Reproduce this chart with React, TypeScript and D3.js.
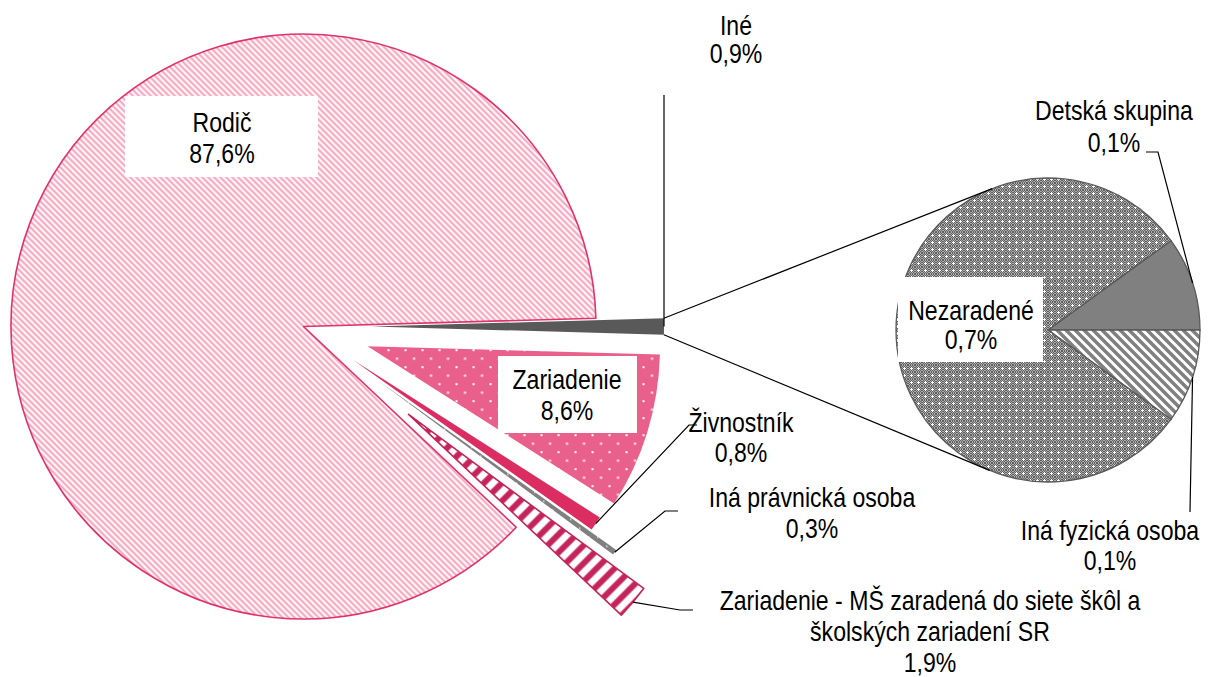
import React, { useEffect } from 'react';
import * as d3 from 'd3';

const mainCategories = [
  'Iné',
  'Zariadenie',
  'Živnostník',
  'Iná právnická osoba',
  'Zariadenie - MŠ zaradená do siete škôl a školských zariadení SR',
  'Rodič',
];
const mainValues = [0.9, 8.6, 0.8, 0.3, 1.9, 87.6];

const subCategories = ['Detská skupina', 'Iná fyzická osoba', 'Nezaradené'];
const subValues = [0.09, 0.09, 0.72];

const W = 1209;
const H = 677;
const main = { cx: 303.5, cy: 326.5, r: 292.5 };
const sub = { cx: 1048, cy: 330, r: 152 };
// pull-out distance of each main slice, same order as mainCategories
const explode = [68, 67, 60, 92, 137, 0];
const mainFill = ['#595959', 'url(#dotsPink)', '#dc2d63', 'url(#dotsGray)', 'url(#stripeRed)', 'url(#hatchPink)'];
const mainStroke = ['none', 'none', 'none', 'none', '#c5245a', '#e0336c'];
const subFill = ['#808080', 'url(#hatchGray)', 'url(#checker)'];

// narrow sans is not installed, so the regular one is squeezed
const FONT = "'Liberation Sans', Arial, sans-serif";
const NARROW = 0.855;
const pct = (v: number) => v.toFixed(1).replace('.', ',') + '%';
const polar = (a: number, d: number): [number, number] => [d * Math.sin(a), -d * Math.cos(a)];

function tangent(px: number, py: number, sign: number): [number, number] {
  const dx = sub.cx - px;
  const dy = sub.cy - py;
  const d = Math.sqrt(dx * dx + dy * dy);
  const phi = Math.atan2(dy, dx) + sign * Math.asin(sub.r / d);
  const len = Math.sqrt(d * d - sub.r * sub.r);
  return [px + len * Math.cos(phi), py + len * Math.sin(phi)];
}

function Label({ x, lines, y0, lh, box }: { x: number; lines: string[]; y0: number; lh: number; box?: number[] }) {
  return (
    <g>
      {box && <rect x={box[0]} y={box[1]} width={box[2] - box[0]} height={box[3] - box[1]} fill="#fff" />}
      <g transform={`translate(${x},0) scale(${NARROW},1)`}>
        <text x={0} y={y0} textAnchor="middle" fontFamily={FONT} fontSize={27} fill="#000">
          {lines.map((l, i) => (
            <tspan key={i} x={0} y={y0 + i * lh}>{l}</tspan>
          ))}
        </text>
      </g>
    </g>
  );
}

export default function App() {
  useEffect(() => {
    document.body.style.margin = '0';
  }, []);

  const total = d3.sum(mainValues);
  const ineA = (2 * Math.PI * mainValues[0]) / total;
  const pie = d3
    .pie<number>()
    .sort(null)
    .startAngle(Math.PI / 2 - ineA / 2)
    .endAngle(Math.PI / 2 - ineA / 2 + 2 * Math.PI);
  const arcs = pie(mainValues);
  const arc = d3.arc<d3.PieArcDatum<number>>().innerRadius(0).outerRadius(main.r);

  const subTotal = d3.sum(subValues);
  const subStart = Math.PI / 2 - (2 * Math.PI * subValues[0]) / subTotal;
  const subArcs = d3
    .pie<number>()
    .sort(null)
    .startAngle(subStart)
    .endAngle(subStart + 2 * Math.PI)(subValues);
  const subArc = d3.arc<d3.PieArcDatum<number>>().innerRadius(0).outerRadius(sub.r);

  const mid = (a: d3.PieArcDatum<number>) => (a.startAngle + a.endAngle) / 2;
  const shift = (i: number) => polar(mid(arcs[i]), explode[i]);
  const outerMid = (i: number): [number, number] => {
    const p = polar(mid(arcs[i]), explode[i] + main.r);
    return [main.cx + p[0], main.cy + p[1]];
  };
  const subMid = (i: number): [number, number] => {
    const p = polar(mid(subArcs[i]), sub.r);
    return [sub.cx + p[0], sub.cy + p[1]];
  };

  // connector lines from the "Iné" slice to the secondary pie
  const ine = arcs[0];
  const [sx, sy] = shift(0);
  const c1 = polar(ine.startAngle, main.r);
  const c2 = polar(ine.endAngle, main.r);
  const p1: [number, number] = [main.cx + sx + c1[0], main.cy + sy + c1[1]];
  const p2: [number, number] = [main.cx + sx + c2[0], main.cy + sy + c2[1]];
  const t1 = tangent(p1[0], p1[1], -1);
  const t2 = tangent(p2[0], p2[1], 1);

  const ineOut = outerMid(0);
  const zivOut = outerMid(2);
  const pravOut = outerMid(3);
  const msOut = outerMid(4);
  const detOut = subMid(0);
  const fyzOut = subMid(1);

  const drawOrder = [5, 1, 2, 3, 4, 0];

  return (
    <svg width={W} height={H} style={{ display: 'block', background: '#fff' }}>
      <defs>
        <pattern id="hatchPink" patternUnits="userSpaceOnUse" width={6} height={6}>
          <rect width={6} height={6} fill="#fff" />
          <path d="M0,0L6,6M-3,3L3,9M3,-3L9,3" stroke="#f5a0b9" strokeWidth={2} />
        </pattern>
        <pattern id="dotsPink" patternUnits="userSpaceOnUse" width={17} height={17}>
          <rect width={17} height={17} fill="#e8608b" />
          <rect x={3} y={3} width={2} height={2} fill="#fff" />
          <rect x={11.5} y={11.5} width={2} height={2} fill="#fff" />
        </pattern>
        <pattern id="dotsGray" patternUnits="userSpaceOnUse" width={9} height={9}>
          <rect width={9} height={9} fill="#808080" />
          <rect x={3} y={3} width={1.5} height={1.5} fill="#e0e0e0" />
        </pattern>
        <pattern id="stripeRed" patternUnits="userSpaceOnUse" width={18} height={18}>
          <rect width={18} height={18} fill="#fff" />
          <path d="M0,18L18,0M-9,9L9,-9M9,27L27,9" stroke="#c5245a" strokeWidth={6} />
        </pattern>
        <pattern id="hatchGray" patternUnits="userSpaceOnUse" width={9} height={9}>
          <rect width={9} height={9} fill="#fff" />
          <path d="M0,0L9,9M-4.5,4.5L4.5,13.5M4.5,-4.5L13.5,4.5" stroke="#808080" strokeWidth={3.5} />
        </pattern>
        <pattern id="check2" patternUnits="userSpaceOnUse" width={2} height={2}>
          <rect width={2} height={2} fill="#adadad" />
          <rect width={1} height={1} fill="#606060" />
          <rect x={1} y={1} width={1} height={1} fill="#606060" />
        </pattern>
        <pattern id="checker" patternUnits="userSpaceOnUse" width={7} height={7}>
          <rect width={7} height={7} fill="url(#check2)" />
          <rect x={3} y={2} width={1} height={3} fill="#fff" />
          <rect x={2} y={3} width={3} height={1} fill="#fff" />
        </pattern>
      </defs>

      <g transform={`translate(${main.cx},${main.cy})`}>
        {drawOrder.map((i) => {
          const [dx, dy] = shift(i);
          return (
            <path
              key={mainCategories[i]}
              d={arc(arcs[i]) || ''}
              transform={`translate(${dx},${dy})`}
              fill={mainFill[i]}
              stroke={mainStroke[i]}
              strokeWidth={1.6}
              strokeLinejoin="round"
            />
          );
        })}
      </g>

      <g transform={`translate(${sub.cx},${sub.cy})`}>
        {subArcs.map((a, i) => (
          <path key={subCategories[i]} d={subArc(a) || ''} fill={subFill[i]} stroke="#595959" strokeWidth={1.3} />
        ))}
      </g>

      <g fill="none" stroke="#000" strokeWidth={1.2}>
        <line x1={p1[0]} y1={p1[1]} x2={t1[0]} y2={t1[1]} />
        <line x1={p2[0]} y1={p2[1]} x2={t2[0]} y2={t2[1]} />
        <path d={`M${ineOut[0]},${ineOut[1]}L${ineOut[0]},95`} />
        <path d={`M${zivOut[0]},${zivOut[1]}L689,425L697,425`} />
        <path d={`M${pravOut[0]},${pravOut[1]}L665,511L678,511`} />
        <path d={`M${msOut[0]},${msOut[1]}L680,610L693,610`} />
        <path d={`M${detOut[0]},${detOut[1]}L1158,152L1146,152`} />
        <path d={`M${fyzOut[0]},${fyzOut[1]}L1190,512`} />
      </g>

      <Label x={222} y0={132} lh={31} lines={[mainCategories[5], pct(mainValues[5])]} box={[125, 96, 318, 177]} />
      <Label x={567} y0={389} lh={31} lines={[mainCategories[1], pct(mainValues[1])]} box={[498, 356, 637, 433]} />
      <Label x={971} y0={320} lh={29} lines={[subCategories[2], pct(subValues[2])]} box={[898, 277, 1043, 362]} />
      <Label x={736} y0={35} lh={28} lines={[mainCategories[0], pct(mainValues[0])]} />
      <Label x={741} y0={432} lh={30} lines={[mainCategories[2], pct(mainValues[2])]} />
      <Label x={812} y0={507} lh={31} lines={[mainCategories[3], pct(mainValues[3])]} />
      <Label x={930} y0={610} lh={31} lines={['Zariadenie - MŠ zaradená do siete škôl a', 'školských zariadení SR', pct(mainValues[4])]} />
      <Label x={1114} y0={120} lh={32} lines={[subCategories[0], pct(subValues[0])]} />
      <Label x={1110} y0={540} lh={30} lines={[subCategories[1], pct(subValues[1])]} />
    </svg>
  );
}
